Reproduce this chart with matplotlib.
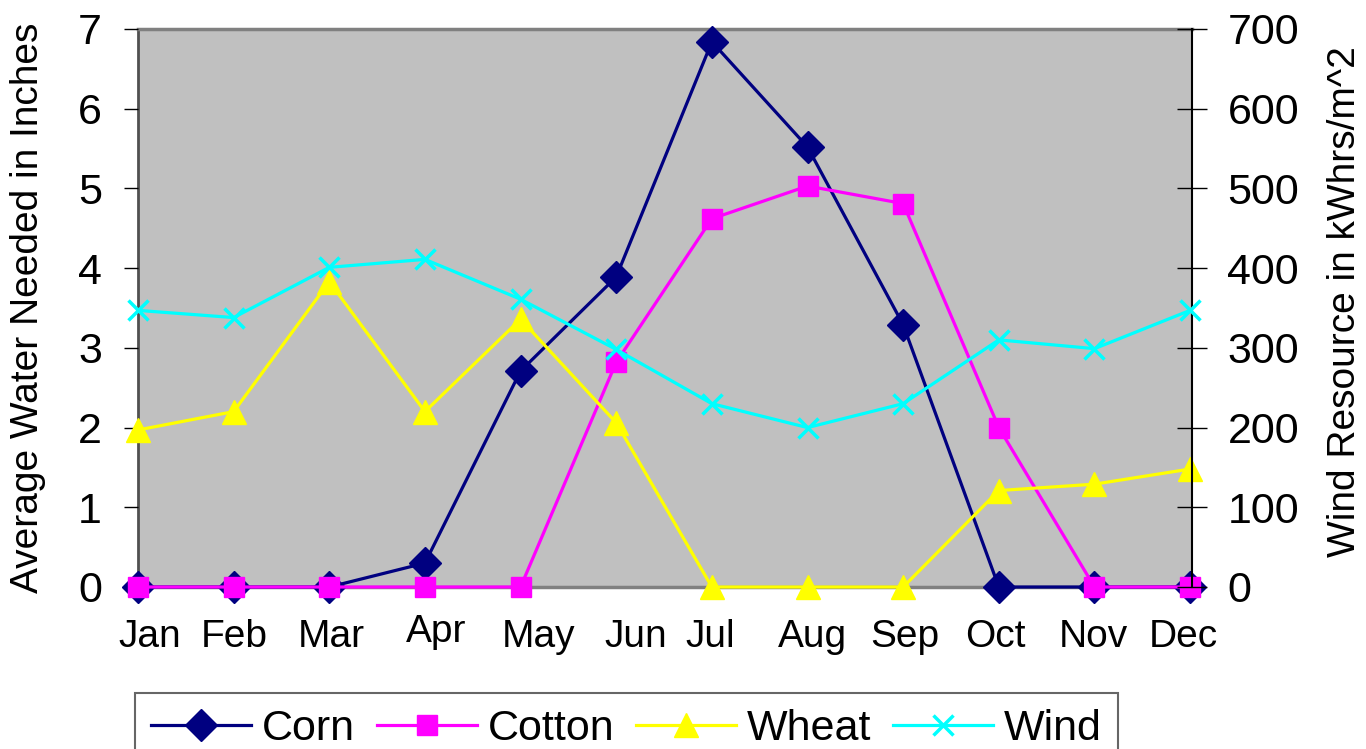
import matplotlib.pyplot as plt
from matplotlib.transforms import ScaledTranslation

plt.rcParams['font.family'] = ['Liberation Sans', 'DejaVu Sans']

months = ["Jan", "Feb", "Mar", "Apr", "May", "Jun",
          "Jul", "Aug", "Sep", "Oct", "Nov", "Dec"]
corn = [0, 0, 0, 0.30, 2.71, 3.89, 6.84, 5.52, 3.29, 0, 0, 0]
cotton = [0, 0, 0, 0, 0, 2.82, 4.62, 5.03, 4.81, 2.0, 0, 0]
wheat = [1.97, 2.2, 3.83, 2.2, 3.36, 2.06, 0, 0, 0, 1.21, 1.29, 1.48]
wind = [347, 338, 401, 411, 361, 298, 230, 200, 230, 310, 299, 347]

# excel puts the category labels a bit off their points
label_dx = [12, 1, 2, 11, 18, 20, -2, 5, 2, -3, -1, -7]
label_dy = [0, 0, 0, 5, 0, 0, 0, 0, 0, 0, 0, 0]

fig = plt.figure(figsize=(13.66, 7.49), dpi=100)
ax = fig.add_axes([138 / 1366, 1 - 587 / 749, (1192 - 138) / 1366, (587 - 29) / 749])
ax.set_facecolor('#C0C0C0')

x = range(len(months))
lw = 2.3
l1, = ax.plot(x, corn, color='#000080', lw=lw, marker='D', ms=16, clip_on=False, zorder=3, label='Corn')
l2, = ax.plot(x, cotton, color='#FF00FF', lw=lw, marker='s', ms=14, clip_on=False, zorder=4, label='Cotton')
l3, = ax.plot(x, wheat, color='#FFFF00', lw=lw, marker='^', ms=17, clip_on=False, zorder=5, label='Wheat')

ax.set_xlim(0, 11.02)
ax.set_ylim(0, 7)
ax.set_yticks(range(8))
ax.tick_params(axis='y', direction='out', length=10, width=1, pad=16, labelsize=31)
ax.set_xticks(list(x))
ax.set_xticklabels(months)
ax.tick_params(axis='x', length=0, pad=23, labelsize=28)
for lab, dx, dy in zip(ax.get_xticklabels(), label_dx, label_dy):
    lab.set_transform(lab.get_transform() + ScaledTranslation(dx / 100, dy / 100, fig.dpi_scale_trans))

for side in ('left', 'top', 'bottom'):
    ax.spines[side].set_zorder(1)
ax.spines['left'].set_color('#505050')
ax.spines['left'].set_linewidth(2)
ax.spines['top'].set_color('#808080')
ax.spines['top'].set_linewidth(2.5)
ax.spines['bottom'].set_color('#808080')
ax.spines['bottom'].set_linewidth(2.5)
ax.spines['right'].set_visible(False)

ax2 = ax.twinx()
for side in ('left', 'top', 'bottom'):
    ax2.spines[side].set_visible(False)
ax2.spines['right'].set_color('black')
ax2.spines['right'].set_linewidth(1.5)
l4, = ax2.plot(x, wind, color='#00FFFF', lw=lw, marker='x', ms=15, mew=2.5, clip_on=False, zorder=6, label='Wind')
ax2.set_ylim(0, 700)
ax2.set_yticks(range(0, 701, 100))
ax2.tick_params(axis='y', direction='inout', length=21, width=1, pad=15, labelsize=31)

fig.text(28 / 1366, 1 - 308 / 749, 'Average Water Needed in Inches', rotation=90,
         ha='center', va='center', fontsize=28)
fig.text(1345 / 1366, 1 - 302 / 749, 'Wind Resource in kWhrs/m^2', rotation=90,
         ha='center', va='center', fontsize=28)

leg = fig.legend(handles=[l1, l2, l3, l4], loc='upper left', bbox_to_anchor=(135 / 1366, 1 - 693 / 749),
                 ncol=4, fontsize=31, frameon=True, fancybox=False, borderaxespad=0,
                 handlelength=2.33, handletextpad=0.25, columnspacing=0.5, borderpad=0.37)
leg.get_frame().set_edgecolor('#404040')
leg.get_frame().set_linewidth(1.5)

fig.savefig('out.png', dpi=100)
